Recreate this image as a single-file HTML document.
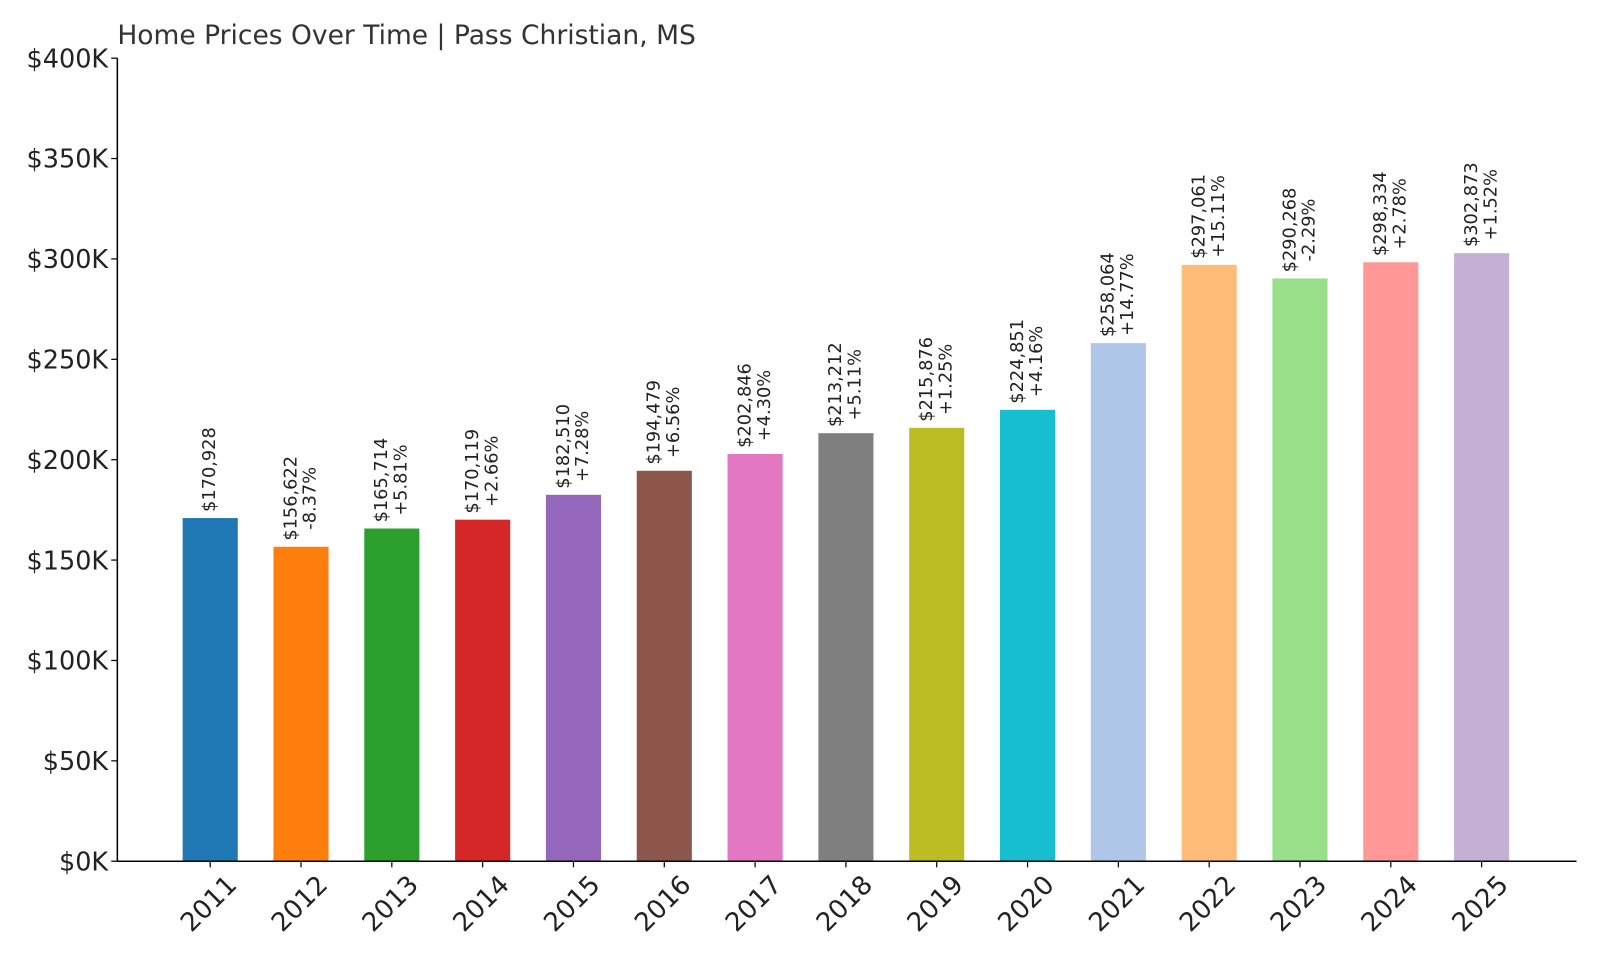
<!DOCTYPE html>
<html><head><meta charset="utf-8"><style>
body{margin:0;background:#fff}
text{font-family:"DejaVu Sans","Liberation Sans",sans-serif}
</style></head><body>
<svg id="chart" width="1600" height="960" xmlns="http://www.w3.org/2000/svg">
<g transform="scale(1.0204)">
<text x="115" y="43" font-size="26" fill="#333">Home Prices Over Time | Pass Christian, MS</text>
<g id="yaxis"></g>
<g id="bars"></g>
<g id="xaxis"></g>
</g>
</svg>
<script>
const years=["2011","2012","2013","2014","2015","2016","2017","2018","2019","2020","2021","2022","2023","2024","2025"];
const values=[170928,156622,165714,170119,182510,194479,202846,213212,215876,224851,258064,297061,290268,298334,302873];
const pcts=["","-8.37%","+5.81%","+2.66%","+7.28%","+6.56%","+4.30%","+5.11%","+1.25%","+4.16%","+14.77%","+15.11%","-2.29%","+2.78%","+1.52%"];
const colors=["#1f77b4","#ff7f0e","#2ca02c","#d62728","#9467bd","#8c564b","#e377c2","#7f7f7f","#bcbd22","#17becf","#aec7e8","#ffbb78","#98df8a","#ff9896","#c5b0d5"];
const yTicks=[0,50000,100000,150000,200000,250000,300000,350000,400000];
const yTickLabels=["$0K","$50K","$100K","$150K","$200K","$250K","$300K","$350K","$400K"];
const NS="http://www.w3.org/2000/svg";
const x0=115,x1=1545,yB=844,yT=57,yMax=400000;
const y=v=>yB-(v/yMax)*(yB-yT);
const xc=i=>206+i*89;
const bw=54;
function mk(tag,attrs,parent){const e=document.createElementNS(NS,tag);for(const k in attrs)e.setAttribute(k,attrs[k]);parent.appendChild(e);return e;}
const ya=document.getElementById('yaxis'),bg=document.getElementById('bars'),xa=document.getElementById('xaxis');
let l=mk('line',{x1:x0,y1:yT,x2:x0,y2:yB,stroke:'#000','stroke-width':1.5},ya);

yTicks.forEach((v,i)=>{
 const t=mk('line',{x1:x0-6,x2:x0,y1:y(v),y2:y(v),stroke:'#000','stroke-width':1.2},ya);
 
 const tx=mk('text',{x:x0-9,y:y(v)+9,'font-size':25,'text-anchor':'end',fill:'#222'},ya);
 tx.textContent=yTickLabels[i];
 
});
values.forEach((v,i)=>{
 const cx=xc(i);
 const r=mk('rect',{x:cx-bw/2,y:y(v),width:bw,height:yB-y(v),fill:colors[i]},bg);
 
 const top=y(v)-6;
 const lines=["$"+v.toLocaleString('en-US')];
 if(pcts[i])lines.push(pcts[i]);
 const g=mk('g',{},bg);
 
 const els=lines.map((s,j)=>{const off=lines.length===1?0:(j===0?-9.5:9.5);
  const t=mk('text',{'font-size':17.4,fill:'#222','text-anchor':'middle','dominant-baseline':'central'},g);t.textContent=s;t._off=off;return t;});
 const maxLen=Math.max(...els.map(e=>e.getComputedTextLength()));
 els.forEach(t=>{const px=cx+t._off,py=top-maxLen/2;t.setAttribute('x',px);t.setAttribute('y',py);t.setAttribute('transform',`rotate(-90 ${px} ${py})`);});
 const tk=mk('line',{x1:cx,x2:cx,y1:yB,y2:yB+6,stroke:'#000','stroke-width':1.2},xa);
 
 const lx=cx-1,ly=886;
 const lt=mk('text',{x:lx,y:ly,'font-size':25.5,'text-anchor':'middle','dominant-baseline':'central',fill:'#222',transform:`rotate(-45 ${lx} ${ly})`},xa);
 lt.textContent=years[i];
 
});
l=mk('line',{x1:x0,y1:yB,x2:x1,y2:yB,stroke:'#000','stroke-width':1.5},xa);

</script>
</body></html>
